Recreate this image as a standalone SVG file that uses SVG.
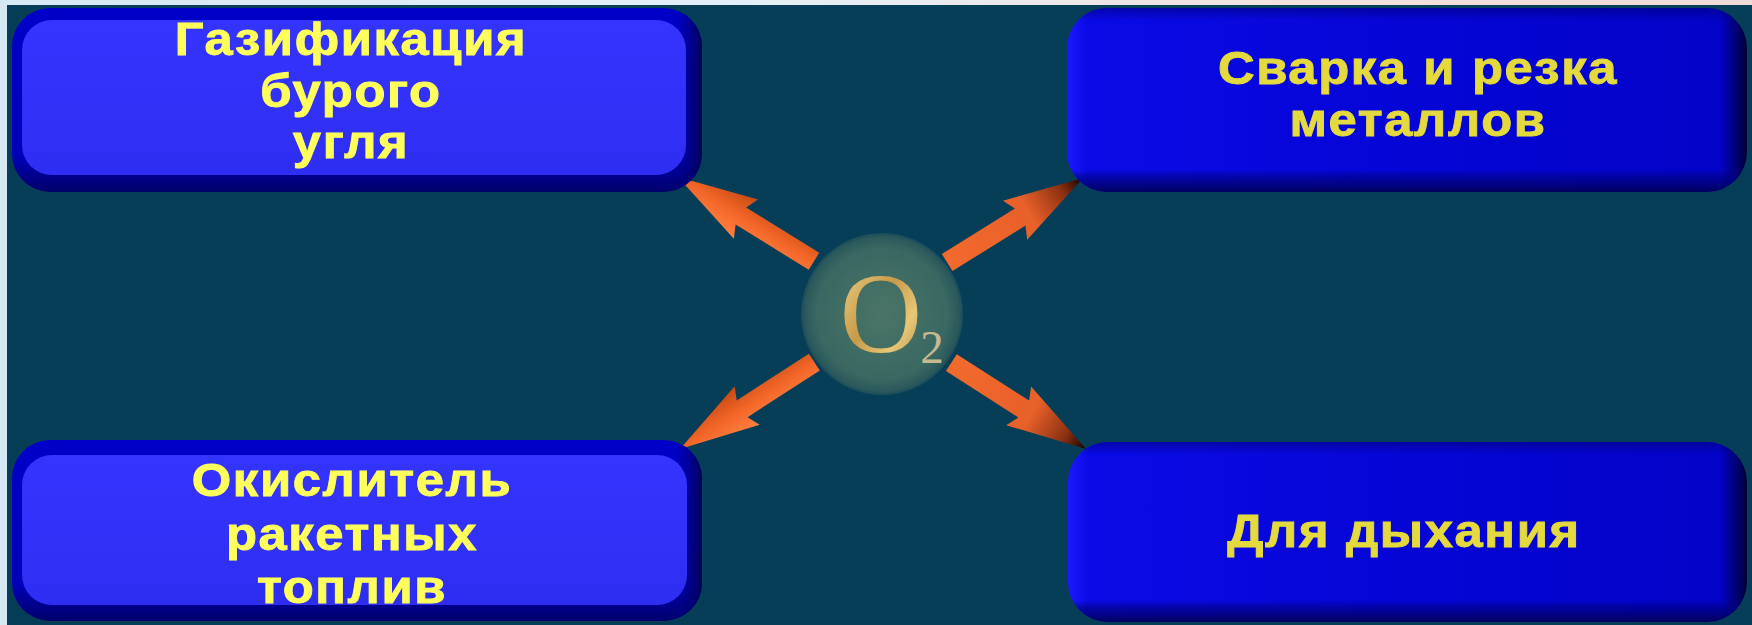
<svg xmlns="http://www.w3.org/2000/svg" width="1752" height="625" viewBox="0 0 1752 625">
<defs>
<style>
.lbl{font-family:"Liberation Sans",Arial,sans-serif;font-weight:bold;font-size:47px;letter-spacing:1.5px;text-anchor:middle;stroke-width:0.9px}
.y1{fill:#ffff5c;stroke:#ffff5c}
.y2{fill:#e4da3e;stroke:#e4da3e}
.arrow{stroke:none}
</style>
<linearGradient id="topband" x1="0" y1="0" x2="1" y2="0">
<stop offset="0" stop-color="#d7e9f5"/><stop offset="0.45" stop-color="#e6eef6"/><stop offset="0.75" stop-color="#f3e2dc"/><stop offset="1" stop-color="#f0dad6"/>
</linearGradient>
<linearGradient id="outerA" x1="0" y1="0" x2="0" y2="1">
<stop offset="0" stop-color="#0000c8"/><stop offset="0.8" stop-color="#0000b8"/><stop offset="0.9" stop-color="#000090"/><stop offset="1" stop-color="#00006a"/>
</linearGradient>
<linearGradient id="rightA" x1="0" y1="0" x2="1" y2="0">
<stop offset="0" stop-color="#0000d8" stop-opacity="0"/><stop offset="0.96" stop-color="#000080" stop-opacity="0"/><stop offset="1" stop-color="#00004a" stop-opacity="0.9"/>
</linearGradient>
<linearGradient id="innerA" x1="0" y1="0" x2="0" y2="1">
<stop offset="0" stop-color="#3434ff"/><stop offset="1" stop-color="#2e2ef2"/>
</linearGradient>
<linearGradient id="fillB" x1="0" y1="0" x2="1" y2="0">
<stop offset="0" stop-color="#1a1aff"/><stop offset="0.03" stop-color="#0a0ae6"/><stop offset="0.5" stop-color="#0505d6"/><stop offset="0.96" stop-color="#0303c8"/><stop offset="0.99" stop-color="#000060"/><stop offset="1" stop-color="#000030"/>
</linearGradient>
<linearGradient id="shadeB" x1="0" y1="0" x2="0" y2="1">
<stop offset="0" stop-color="#000070" stop-opacity="0.5"/><stop offset="0.07" stop-color="#000070" stop-opacity="0"/><stop offset="0.88" stop-color="#000070" stop-opacity="0"/><stop offset="0.92" stop-color="#000080" stop-opacity="0.6"/><stop offset="1" stop-color="#000050" stop-opacity="0.9"/>
</linearGradient>
<radialGradient id="ball" cx="0.5" cy="0.5" r="0.5">
<stop offset="0" stop-color="#4a7466"/><stop offset="0.8" stop-color="#3a6862"/><stop offset="0.95" stop-color="#2c5a5c"/><stop offset="1" stop-color="#1a4c5a"/>
</radialGradient>
<linearGradient id="gold" x1="0" y1="0" x2="1" y2="1">
<stop offset="0" stop-color="#f3d890"/><stop offset="0.45" stop-color="#c89a48"/><stop offset="0.7" stop-color="#e8c878"/><stop offset="1" stop-color="#a87a38"/>
</linearGradient>
<linearGradient id="arrL" x1="0" y1="0" x2="0" y2="1">
<stop offset="0" stop-color="#ff8040"/><stop offset="0.5" stop-color="#f26628"/><stop offset="1" stop-color="#c84a14"/>
</linearGradient>
<linearGradient id="arrR" x1="0" y1="0" x2="1" y2="0">
<stop offset="0" stop-color="#f26a2c"/><stop offset="0.6" stop-color="#e8602a"/><stop offset="0.85" stop-color="#8a3010"/><stop offset="1" stop-color="#100000"/>
</linearGradient>
<path id="arrowShape" d="M-160,-10 L-74,-10 L-80,-23 L0,0 L-80,23 L-74,10 L-160,10 Z"/>
</defs>

<rect x="0" y="0" width="1752" height="625" fill="#073e57"/>
<rect x="0" y="0" width="1752" height="5" fill="url(#topband)"/>
<rect x="0" y="0" width="7" height="625" fill="#d6e8f4"/>

<g id="connectors">
<use href="#arrowShape" class="arrow" fill="url(#arrL)" transform="translate(678,177) rotate(211.8)"/>
<use href="#arrowShape" class="arrow" fill="url(#arrR)" transform="translate(1083,178) rotate(-31.9)"/>
<use href="#arrowShape" class="arrow" fill="url(#arrL)" transform="translate(680,449) rotate(147.1)"/>
<use href="#arrowShape" class="arrow" fill="url(#arrR)" transform="translate(1086,449) rotate(32.7)"/>
</g>

<g id="node-gasification">
<rect x="12" y="8" width="690" height="184" rx="38" fill="url(#outerA)"/>
<rect x="12" y="8" width="690" height="184" rx="38" fill="url(#rightA)"/>
<rect x="22" y="20" width="664" height="155" rx="30" fill="url(#innerA)"/>
<text class="lbl y1" transform="translate(351,55) scale(1.08,1)">Газификация</text>
<text class="lbl y1" transform="translate(351,107) scale(1.08,1)">бурого</text>
<text class="lbl y1" transform="translate(351,158) scale(1.08,1)">угля</text>
</g>

<g id="node-welding">
<rect x="1067" y="8" width="680" height="184" rx="40" fill="url(#fillB)"/>
<rect x="1067" y="8" width="680" height="184" rx="40" fill="url(#shadeB)"/>
<text class="lbl y2" transform="translate(1418,84) scale(1.08,1)">Сварка и резка</text>
<text class="lbl y2" transform="translate(1418,136) scale(1.08,1)">металлов</text>
</g>

<g id="node-oxidizer">
<rect x="12" y="440" width="690" height="181" rx="38" fill="url(#outerA)"/>
<rect x="12" y="440" width="690" height="181" rx="38" fill="url(#rightA)"/>
<rect x="22" y="455" width="665" height="150" rx="30" fill="url(#innerA)"/>
<text class="lbl y1" transform="translate(352,496) scale(1.08,1)">Окислитель</text>
<text class="lbl y1" transform="translate(352,550) scale(1.08,1)">ракетных</text>
<text class="lbl y1" transform="translate(352,603) scale(1.08,1)">топлив</text>
</g>

<g id="node-breathing">
<rect x="1068" y="442" width="679" height="180" rx="40" fill="url(#fillB)"/>
<rect x="1068" y="442" width="679" height="180" rx="40" fill="url(#shadeB)"/>
<text class="lbl y2" transform="translate(1404,547) scale(1.08,1)">Для дыхания</text>
</g>

<g id="node-o2">
<circle cx="882" cy="314" r="81" fill="url(#ball)"/>
<text x="881" y="352" font-family="Liberation Serif,Times New Roman,serif" font-size="114" text-anchor="middle" fill="url(#gold)">O</text>
<text x="932" y="363" font-family="Liberation Serif,Times New Roman,serif" font-size="47" text-anchor="middle" fill="#c8b890">2</text>
</g>
</svg>
